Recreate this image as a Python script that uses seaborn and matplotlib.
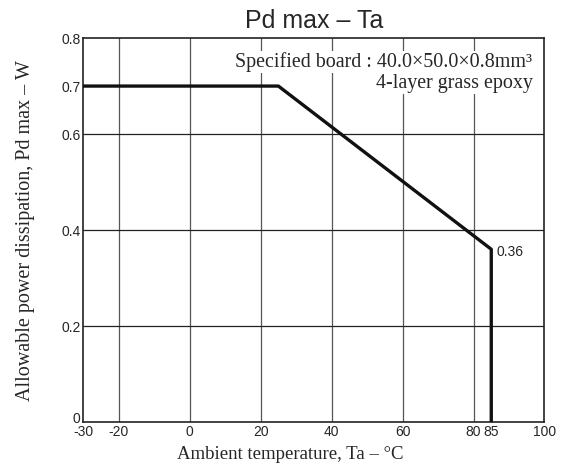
import numpy as np
import matplotlib
matplotlib.use("Agg")
import matplotlib.pyplot as plt
import matplotlib.transforms as mtransforms
import pandas as pd
import seaborn as sns

# derating curve
ta = [-30, 25, 85, 85]
pd_max = [0.7, 0.7, 0.36, 0.0]

x_ticks = [-30, -20, 0, 20, 40, 60, 80, 85, 100]
x_grid = [-20, 0, 20, 40, 60, 80]
y_ticks = [0, 0.2, 0.4, 0.6, 0.7, 0.8]
y_tick_labels = ["0", "0.2", "0.4", "0.6", "0.7", "0.8"]
y_grid = [0.2, 0.4, 0.6]

df = pd.DataFrame({"Ta": ta, "Pd": pd_max})

sns.set_style("white")
plt.rcParams["font.family"] = ["Liberation Sans", "DejaVu Sans"]
serif = ["Liberation Serif", "DejaVu Serif"]

fig = plt.figure(figsize=(5.66, 4.70), dpi=100)
ax = fig.add_axes([0.147, 0.102, 0.815, 0.817])

# grid lines
for gx in x_grid:
    ax.axvline(gx, color="#555555", lw=0.9, zorder=1)
for gy in y_grid:
    ax.axhline(gy, color="#222222", lw=0.9, zorder=1)

sns.lineplot(data=df, x="Ta", y="Pd", sort=False, estimator=None,
             color="#111111", lw=2.4, ax=ax, zorder=3)

ax.set_xlim(-30, 100)
ax.set_ylim(0, 0.8)
ax.set_xticks(x_ticks)
ax.set_xticklabels([str(t) for t in x_ticks], fontsize=10)
ax.set_yticks(y_ticks)
ax.set_yticklabels(y_tick_labels, fontsize=10)
ax.tick_params(axis="both", length=0, pad=2)

# lift the "0" a touch so it doesn't sit on top of "-30"
lift = mtransforms.ScaledTranslation(0, 3 / 72, fig.dpi_scale_trans)
zero_lab = ax.get_yticklabels()[0]
zero_lab.set_transform(zero_lab.get_transform() + lift)

for sp in ax.spines.values():
    sp.set_color("#222222")
    sp.set_linewidth(1.2)

ax.set_title("Pd max \u2013 Ta", fontsize=18, pad=7)
ax.set_xlabel("Ambient temperature, Ta \u2013 \u00b0C", fontsize=13.5,
              family=serif)
ax.xaxis.set_label_coords(0.449, -0.062)
ax.set_ylabel("Allowable power dissipation, Pd max \u2013 W", fontsize=14.5,
              family=serif, labelpad=19)

# board note, one text per line so the curve corner stays clear
ax.text(96.6, 0.75, "Specified board : 40.0\u00d750.0\u00d70.8mm\u00b3",
        ha="right", va="center", fontsize=14.4, family=serif,
        bbox=dict(facecolor="white", edgecolor="none", pad=1), zorder=2)
ax.text(96.6, 0.706, "4-layer grass epoxy",
        ha="right", va="center", fontsize=14.4, family=serif,
        bbox=dict(facecolor="white", edgecolor="none", pad=1), zorder=2)
ax.text(86.5, 0.355, "0.36", ha="left", va="center", fontsize=10, zorder=4)

fig.savefig("out.png", dpi=100)
